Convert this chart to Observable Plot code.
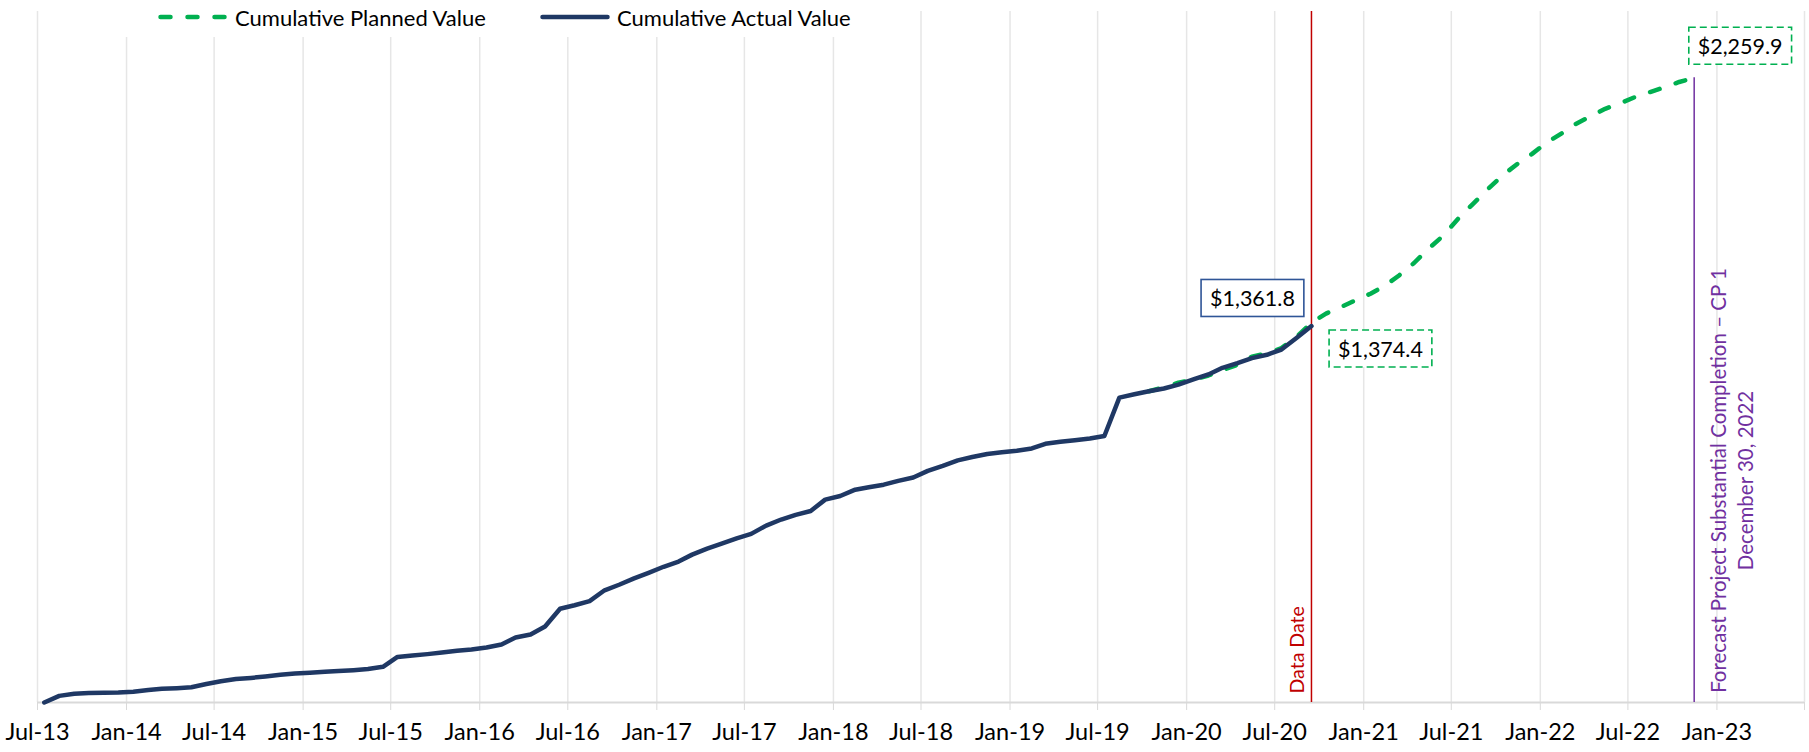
<!DOCTYPE html>
<html>
<head>
<meta charset="utf-8">
<script src="https://cdn.jsdelivr.net/npm/d3@7"></script>
<script src="https://cdn.jsdelivr.net/npm/@observablehq/plot@0.6"></script>
<style>
  html, body { margin: 0; padding: 0; background: #fff; }
  #wrap { position: relative; width: 1809px; height: 752px; font-family: Lato, "Noto Sans", sans-serif; }
  #legend { position: absolute; left: 115px; top: 0; width: 770px; height: 37px; background: #fff; }
  .item { position: absolute; top: 0; height: 34px; display: flex; align-items: center; font-size: 22px; color: #000; white-space: nowrap; }
  .item svg { display: block; margin-right: 7px; }
</style>
</head>
<body>
<div id="wrap">
  <div id="chart"></div>
  <div id="legend"></div>
</div>
<script>
// ---------------- DATA ----------------
const seriesNames = ["Cumulative Planned Value", "Cumulative Actual Value"];

// Monthly cumulative actual value ($M), first point Jul-13
const actualStart = "Jul-13";
const actualValues = [
  0, 24, 32, 34, 35, 36, 39, 45, 50, 52,
  55, 67, 77, 85, 89, 94, 100, 105, 108, 111,
  114, 117, 121, 129, 165, 170, 175, 181, 187, 192,
  199, 210, 235, 246, 275, 339, 352, 367, 406, 426,
  449, 469, 491, 510, 535, 557, 575, 594, 610, 640,
  662, 679, 693, 734, 747, 770, 779, 788, 802, 814,
  838, 856, 876, 888, 899, 905, 911, 919, 936, 943,
  949, 955, 964, 1103, 1115, 1126, 1136, 1150, 1169, 1187,
  1211, 1228, 1246, 1258, 1277, 1319, 1361.8
];

// Monthly cumulative planned value ($M), first point Oct-19
const plannedStart = "Oct-19";
const plannedValues = [
  1126, 1140, 1157, 1168, 1183, 1203, 1222, 1251, 1263, 1282, 1322, 1374.4,
  1407, 1431, 1455, 1479, 1509, 1545, 1590, 1642, 1690, 1750,
  1804, 1858, 1907, 1949, 1985, 2027, 2060, 2093, 2121, 2148,
  2168, 2190, 2208, 2226, 2245, 2259.9
];

const tickLabels = ["Jul-13","Jan-14","Jul-14","Jan-15","Jul-15","Jan-16","Jul-16","Jan-17","Jul-17","Jan-18",
                    "Jul-18","Jan-19","Jul-19","Jan-20","Jul-20","Jan-21","Jul-21","Jan-22","Jul-22","Jan-23"];
const axisEnd = "Jul-23";
const yMax = 2500;

const dataDateText = "Data Date";
const completionText = ["Forecast Project Substantial Completion – CP 1", "December 30, 2022"];

// ---------------- BUILD ----------------
const parseM = d3.utcParse("%b-%y");
const fmtM = d3.utcFormat("%b-%y");
const monthPoint = (start, i) => d3.utcDay.offset(d3.utcMonth.offset(parseM(start), i), 14);

const actual = actualValues.map((v, i) => ({date: monthPoint(actualStart, i), value: v}));
const planned = plannedValues.map((v, i) => ({date: monthPoint(plannedStart, i), value: v}));

const tickDates = tickLabels.map(parseM);
const endDate = parseM(axisEnd);
const gridDates = [...tickDates, endDate];

const lastActual = actual[actual.length - 1];
const plannedAtDataDate = planned.find(d => +d.date === +lastActual.date);
const lastPlanned = planned[planned.length - 1];
const money = v => "$" + d3.format(",.1f")(v);

const GREEN = "#00B050", NAVY = "#1F3864", RED = "#C00000", PURPLE = "#7030A0";

const chart = Plot.plot({
  width: 1809,
  height: 752,
  marginLeft: 37,
  marginRight: 5,
  marginTop: 11,
  marginBottom: 50,
  style: {fontFamily: "Lato, 'Noto Sans', sans-serif", fontSize: "23px", color: "#000", background: "#fff"},
  x: {type: "utc", domain: [tickDates[0], endDate]},
  y: {domain: [0, yMax], axis: null},
  marks: [
    Plot.ruleX(gridDates, {stroke: "#e6e6e6", strokeWidth: 1.5}),
    Plot.ruleY([0], {stroke: "#d9d9d9", strokeWidth: 2}),
    Plot.axisX(gridDates, {
      tickSize: 8, tickPadding: 13, stroke: "#d9d9d9", fill: "#000", fontSize: 23.5,
      tickFormat: d => (+d < +endDate ? fmtM(d) : "")
    }),
    Plot.ruleX([lastActual], {x: "date", stroke: RED, strokeWidth: 1.5}),
    Plot.ruleX([lastPlanned], {x: "date", y1: 0, y2: "value", stroke: PURPLE, strokeWidth: 1.5}),
    Plot.line(planned, {x: "date", y: "value", stroke: GREEN, strokeWidth: 4.5,
      strokeDasharray: "10,17", strokeLinecap: "round", strokeLinejoin: "round"}),
    Plot.line(actual, {x: "date", y: "value", stroke: NAVY, strokeWidth: 4.5,
      strokeLinecap: "round", strokeLinejoin: "round"}),
    Plot.text([lastActual], {x: "date", frameAnchor: "bottom", text: () => dataDateText,
      rotate: -90, textAnchor: "start", dx: -7, dy: -9, fill: RED, fontSize: 19.5}),
    Plot.text([lastPlanned], {x: "date", frameAnchor: "bottom", text: () => completionText.join("\n"),
      rotate: -90, textAnchor: "middle", lineAnchor: "middle", lineHeight: 1.3,
      dx: 37, dy: -222, fill: PURPLE, fontSize: 20.5}),
    Plot.text([lastActual], {x: "date", y: "value", text: d => money(d.value),
      dx: -59, dy: -27, fill: "#000", fontSize: 21.5}),
    Plot.text([plannedAtDataDate], {x: "date", y: "value", text: d => money(d.value),
      dx: 69, dy: 27, fill: "#000", fontSize: 21.5}),
    Plot.text([lastPlanned], {x: "date", y: "value", text: d => money(d.value),
      dx: 46, dy: -31, fill: "#000", fontSize: 21.5})
  ]
});

document.getElementById("chart").append(chart);

// boxes behind the value labels
const boxes = [
  [money(lastActual.value), "#2F5597", null],
  [money(plannedAtDataDate.value), GREEN, "7,4"],
  [money(lastPlanned.value), GREEN, "7,4"]
];
const allTexts = Array.from(chart.querySelectorAll("text"));
for (const [label, stroke, dash] of boxes) {
  const t = allTexts.find(el => el.textContent.trim() === label);
  if (!t) continue;
  const b = t.getBBox();
  const w = b.width + 18, h = 37;
  const r = document.createElementNS("http://www.w3.org/2000/svg", "rect");
  r.setAttribute("x", b.x + b.width / 2 - w / 2);
  r.setAttribute("y", b.y + b.height / 2 - h / 2);
  r.setAttribute("width", w);
  r.setAttribute("height", h);
  r.setAttribute("fill", "#fff");
  r.setAttribute("stroke", stroke);
  r.setAttribute("stroke-width", 1.6);
  if (dash) r.setAttribute("stroke-dasharray", dash);
  const tr = t.getAttribute("transform");
  if (tr) r.setAttribute("transform", tr);
  t.parentNode.insertBefore(r, t);
}

// legend
const legend = document.getElementById("legend");
const items = [
  {name: seriesNames[0], color: GREEN, dash: "10,17", left: 43},
  {name: seriesNames[1], color: NAVY, dash: null, left: 425}
];
for (const it of items) {
  const div = document.createElement("div");
  div.className = "item";
  div.style.left = it.left + "px";
  const svg = d3.create("svg").attr("width", 70).attr("height", 10);
  svg.append("line").attr("x1", 2.5).attr("x2", 67.5).attr("y1", 5).attr("y2", 5)
    .attr("stroke", it.color).attr("stroke-width", 4.5).attr("stroke-linecap", "round")
    .attr("stroke-dasharray", it.dash);
  div.append(svg.node());
  const span = document.createElement("span");
  span.textContent = it.name;
  div.append(span);
  legend.append(div);
}
</script>
</body>
</html>
